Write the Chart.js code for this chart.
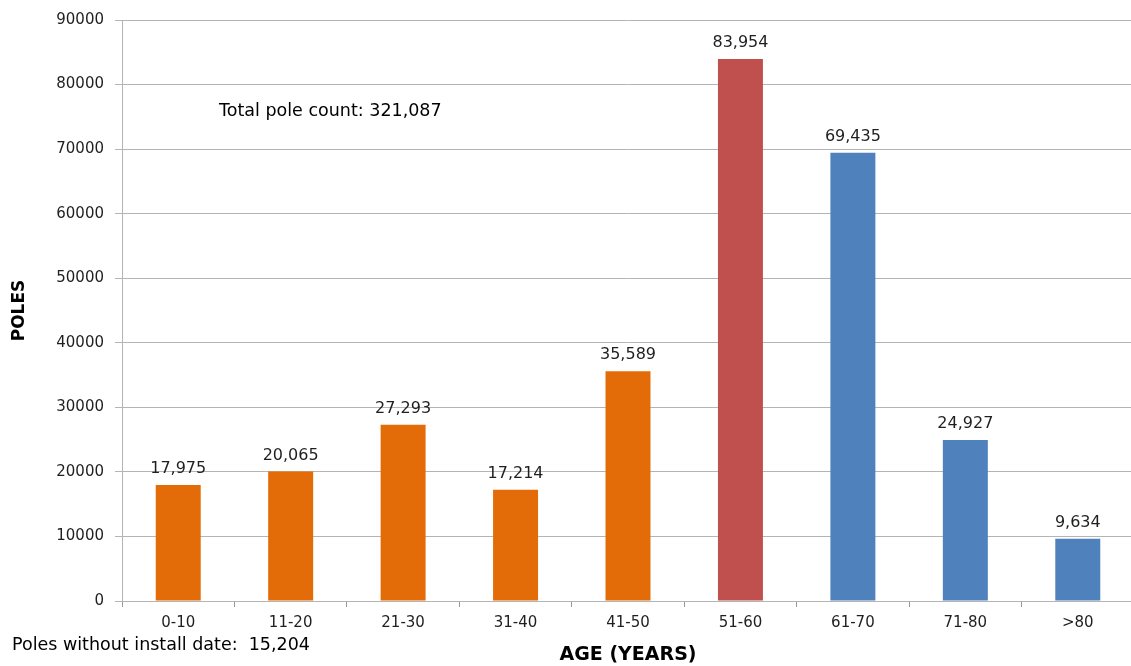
<!DOCTYPE html>
<html>
<head>
<meta charset="utf-8">
<script src="https://cdn.jsdelivr.net/npm/chart.js@4/dist/chart.umd.min.js"></script>
<style>
  html, body { margin: 0; padding: 0; background: #fff; overflow: hidden; }
  #wrap { width: 1134px; height: 666px; }
</style>
</head>
<body>
<div id="wrap"><canvas id="chart"></canvas></div>
<script>
// age groups on the x axis
var ageGroups = ["0-10", "11-20", "21-30", "31-40", "41-50", "51-60", "61-70", "71-80", ">80"];
// pole counts per age group
var poleCounts = [17975, 20065, 27293, 17214, 35589, 83954, 69435, 24927, 9634];
var barColors = ["#E36C09", "#E36C09", "#E36C09", "#E36C09", "#E36C09", "#C0504D", "#4F81BD", "#4F81BD", "#4F81BD"];
var yTicks = [0, 10000, 20000, 30000, 40000, 50000, 60000, 70000, 80000, 90000];
var totalNote = "Total pole count: 321,087";
var missingNote = "Poles without install date:  15,204";

var FONT = "'DejaVu Sans', sans-serif";
var gridGray = "#B4B4B4";

// value above each bar
var valueLabels = {
    id: "valueLabels",
    afterDatasetsDraw: function(chart) {
        var ctx = chart.ctx;
        var meta = chart.getDatasetMeta(0);
        ctx.save();
        ctx.font = "16px " + FONT;
        ctx.fillStyle = "#1f1f1f";
        ctx.textAlign = "center";
        ctx.textBaseline = "middle";
        meta.data.forEach(function(bar, i) {
            ctx.fillText(poleCounts[i].toLocaleString("en-US"), bar.x, bar.y - 16);
        });
        ctx.restore();
    }
};

// the two free text notes
var notes = {
    id: "notes",
    afterDraw: function(chart) {
        var ctx = chart.ctx;
        var area = chart.chartArea;
        ctx.save();
        ctx.font = "17.5px " + FONT;
        ctx.fillStyle = "#000";
        ctx.textAlign = "left";
        ctx.textBaseline = "middle";
        ctx.fillText(totalNote, area.left + 97, 111);
        ctx.fillText(missingNote, 12, 645);
        ctx.restore();
    }
};

new Chart(document.getElementById("chart"), {
    type: "bar",
    data: {
        labels: ageGroups,
        datasets: [{
            data: poleCounts,
            backgroundColor: barColors,
            borderWidth: 0,
            categoryPercentage: 1.0,
            barPercentage: 0.4
        }]
    },
    options: {
        responsive: true,
        maintainAspectRatio: false,
        animation: false,
        layout: { padding: { top: 19, right: 0, bottom: 0, left: 0 } },
        plugins: {
            legend: { display: false },
            tooltip: { enabled: false }
        },
        scales: {
            x: {
                grid: {
                    drawOnChartArea: false,
                    drawTicks: true,
                    tickLength: 6,
                    color: "#999999"
                },
                border: { color: gridGray, width: 1 },
                ticks: {
                    padding: 7,
                    color: "#1f1f1f",
                    font: { family: FONT, size: 15 },
                    maxRotation: 0
                },
                title: {
                    display: true,
                    text: "AGE (YEARS)",
                    color: "#000",
                    font: { family: FONT, size: 19, weight: "bold" },
                    padding: { top: 0, bottom: 0 }
                },
                afterFit: function(scale) { scale.height = 65; }
            },
            y: {
                min: 0,
                max: 90000,
                afterBuildTicks: function(scale) {
                    scale.ticks = yTicks.map(function(v) { return { value: v }; });
                },
                grid: {
                    color: gridGray,
                    drawTicks: true,
                    tickLength: 7
                },
                border: { color: gridGray, width: 1 },
                ticks: {
                    padding: 11,
                    color: "#1f1f1f",
                    font: { family: FONT, size: 15 },
                    callback: function(v) { return String(v); }
                },
                title: {
                    display: true,
                    text: "POLES",
                    color: "#000",
                    font: { family: FONT, size: 17, weight: "bold" },
                    padding: { top: 9, bottom: 0 }
                },
                afterFit: function(scale) { scale.width = 122; }
            }
        }
    },
    plugins: [valueLabels, notes]
});
</script>
</body>
</html>
